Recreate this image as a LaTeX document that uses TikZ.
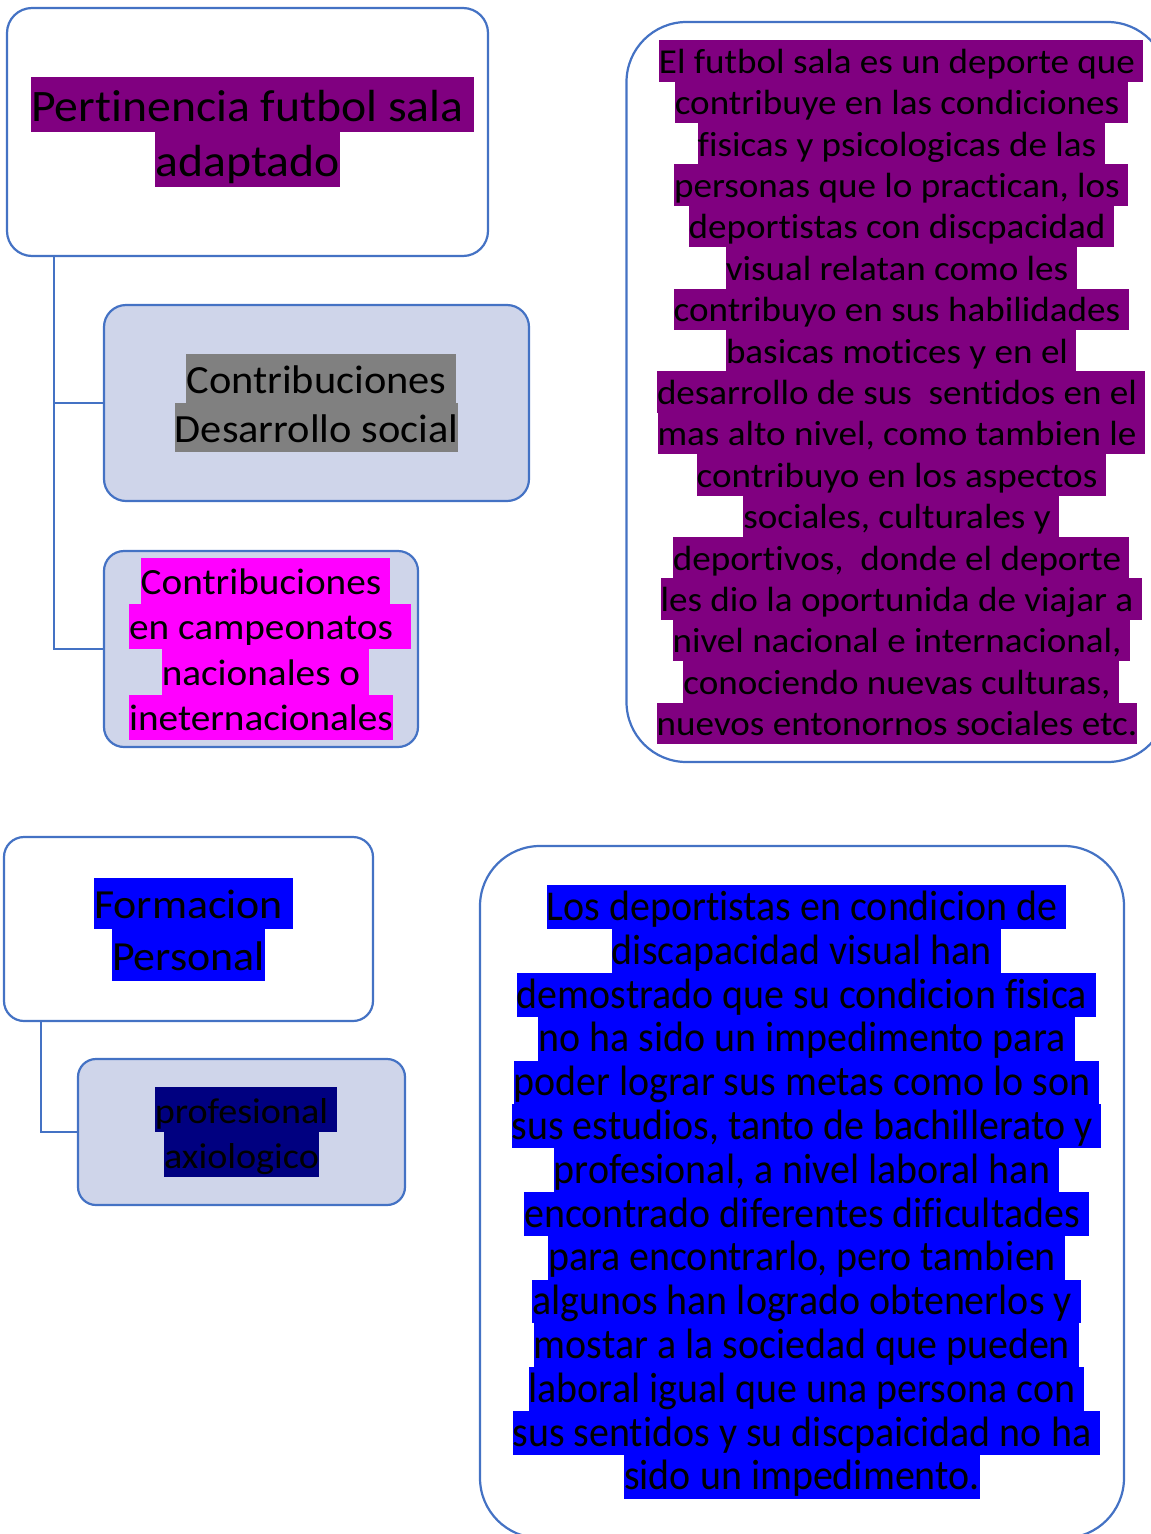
\documentclass[tikz,border=0pt]{standalone}
\usepackage{fontspec}
\setmainfont{Carlito}
\newfontfamily\normfont[FakeStretch=1.06, Ligatures=NoCommon]{Carlito}
\newfontfamily\tallfont[FakeStretch=0.94, Ligatures=NoCommon]{Carlito}
\usepackage{tikz}
\usetikzlibrary{calc}

\definecolor{fpblue}{RGB}{68,114,196}
\definecolor{fplav}{RGB}{207,213,234}
\definecolor{hlpurple}{RGB}{128,0,128}
\definecolor{hlgray}{RGB}{128,128,128}
\definecolor{hlmagenta}{RGB}{255,0,255}
\definecolor{hlblue}{RGB}{0,0,255}
\definecolor{hlnavy}{RGB}{0,0,128}
\colorlet{hlcol}{white}
\setlength{\fboxsep}{0pt}
\newcommand\hl[1]{\colorbox{hlcol}{\rule[-.2\baselineskip]{0pt}{\baselineskip}#1}}
\newcommand\hls[1]{\hl{#1}\rlap{\hl{\ }}}

\tikzset{
    box/.style={draw=fpblue, line width=2.2pt, fill=white, rounded corners=#1, align=center, inner sep=0pt},
    box/.default=22,
    leaf/.style={box=#1, fill=fplav},
    leaf/.default=20,
    hl/.code={\colorlet{hlcol}{#1}},
    link/.style={draw=fpblue, line width=2.2pt}
}

\begin{document}
\begin{tikzpicture}[x=1pt,y=-1pt]
        \useasboundingbox (0,0) rectangle (1151,1534);
        \node[box=25, hl=hlpurple, minimum width=481, minimum height=248,
            font={\normfont\fontsize{45}{55}\selectfont}] (pert) at (247.5,132)
            {\hls{Pertinencia futbol sala}\\\hl{adaptado}};
        \node[leaf=22, hl=hlgray, minimum width=425, minimum height=196,
            font={\normfont\fontsize{40}{49}\selectfont}] (social) at (316.5,403)
            {\hls{Contribuciones}\\\hl{Desarrollo social}};
        \node[leaf=20, hl=hlmagenta, minimum width=314, minimum height=196,
            font={\normfont\fontsize{37}{45.5}\selectfont}] (champ) at (261,649)
            {\hls{Contribuciones}\\\hl{en campeonatos}\rlap{\hl{\ \ }}\\\hls{nacionales o}\\\hl{ineternacionales}};
        \node[box=60, hl=hlpurple, minimum width=541, minimum height=740,
            font={\normfont\fontsize{35}{41.4}\selectfont}] (futsal) at (897,392)
            {\hls{El futbol sala es un deporte que}\\
             \hls{contribuye en las condiciones}\\
             \hls{fisicas y psicologicas de las}\\
             \hls{personas que lo practican, los}\\
             \hls{deportistas con discpacidad}\\
             \hls{visual relatan como les}\\
             \hls{contribuyo en sus habilidades}\\
             \hls{basicas motices y en el}\\
             \hls{desarrollo de sus\ \ sentidos en el}\\
             \hls{mas alto nivel, como tambien le}\\
             \hls{contribuyo en los aspectos}\\
             \hls{sociales, culturales y}\\
             \hls{deportivos,\ \ donde el deporte}\\
             \hls{les dio la oportunida de viajar a}\\
             \hls{nivel nacional e internacional,}\\
             \hls{conociendo nuevas culturas,}\\
             \hl{nuevos entonornos sociales etc.}};
        \node[box=20, hl=hlblue, minimum width=369, minimum height=184,
            font={\normfont\fontsize{41.4}{51.5}\selectfont}] (form) at (188.5,929)
            {\hls{Formacion}\\\hl{Personal}};
        \node[leaf=18, hl=hlnavy, minimum width=327, minimum height=146,
            font={\normfont\fontsize{36}{45}\selectfont}] (axio) at (241.5,1132)
            {\hls{profesional}\\\hl{axiologico}};
        \node[box=60, hl=hlblue, minimum width=644, minimum height=692,
            font={\tallfont\fontsize{42.5}{43.8}\selectfont}] (dvis) at (802,1192)
            {\hls{Los deportistas en condicion de}\\
             \hls{discapacidad visual han}\\
             \hls{demostrado que su condicion fisica}\\
             \hls{no ha sido un impedimento para}\\
             \hls{poder lograr sus metas como lo son}\\
             \hls{sus estudios, tanto de bachillerato y}\\
             \hls{profesional, a nivel laboral han}\\
             \hls{encontrado diferentes dificultades}\\
             \hls{para encontrarlo, pero tambien}\\
             \hls{algunos han logrado obtenerlos y}\\
             \hls{mostar a la sociedad que pueden}\\
             \hls{laboral igual que una persona con}\\
             \hls{sus sentidos y su discpaicidad no ha}\\
             \hl{sido un impedimento.}};
        \coordinate (ptrunk) at ($(pert.south west)+(48,0)$);
        \coordinate (ftrunk) at ($(form.south west)+(38,0)$);
        \draw[link] (ptrunk) |- (social.west);
        \draw[link] (ptrunk) |- (champ.west);
        \draw[link] (ftrunk) |- (axio.west);
    \end{tikzpicture}
\end{document}
